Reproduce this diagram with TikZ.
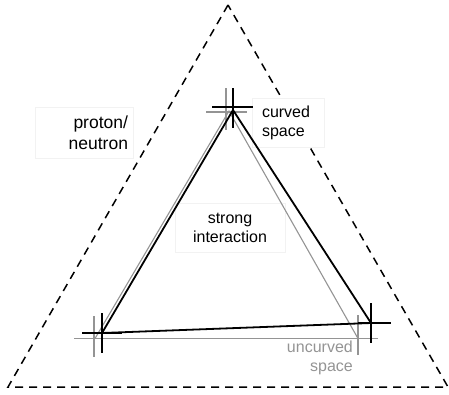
\documentclass[tikz,border=0pt]{standalone}
\usepackage{fontspec}
\setmainfont{Liberation Sans}
\begin{document}
\begin{tikzpicture}[x=1pt,y=-1pt,
  outer/.style={line width=1.5pt, dash pattern=on 8pt off 6pt},
  blk/.style={line width=1.8pt, draw=black},
  gry/.style={line width=1.1pt, draw=black!42},
  lblbox/.style={fill=white, draw=black!5, line width=0.5pt, inner sep=0pt,
    font=\fontsize{16}{19}\selectfont},
]
\useasboundingbox (0,0) rectangle (449,394);
% outer dashed triangle
\coordinate (O1) at (228,5);
\coordinate (O2) at (8,387);
\coordinate (O3) at (448,387);
\draw[outer] (O1) -- (O2) -- (O3) -- cycle;

% labels
\node[lblbox, minimum width=98, minimum height=51, text width=88, align=right,
  font=\fontsize{17.5}{21}\selectfont] (pn) at (84,132.5) {proton/\\neutron};
\node[lblbox, minimum width=72, minimum height=49, text width=52, align=left] (cs) at (288,122.5) {curved\\space};
\node[lblbox, minimum width=110, minimum height=49, text width=100, align=center] (si) at (230,228) {strong\\interaction};
\node[font=\fontsize{16}{19}\selectfont, text=black!42, align=right, anchor=east, inner sep=1pt] (us) at (354,357.5) {uncurved\\space};

% gray (uncurved) triangle
\coordinate (GA) at (229,111);
\coordinate (GB) at (95,338.5);
\coordinate (GC) at (358,338.5);
\coordinate (GL) at (74,338.5);
\coordinate (GR) at (378,338.5);
\draw[gry] (GB) -- (GA) -- (GC);
\draw[gry] (GL) -- (GR);
\coordinate (GAh1) at (206,112); \coordinate (GAh2) at (247,112);
\coordinate (GAv1) at (226,88);  \coordinate (GAv2) at (226,130);
\draw[gry] (GAh1) -- (GAh2);
\draw[gry] (GAv1) -- (GAv2);
\coordinate (GBv1) at (94,316); \coordinate (GBv2) at (94,357);
\draw[gry] (GBv1) -- (GBv2);
\coordinate (GCv1) at (358,315); \coordinate (GCv2) at (358,355);
\draw[gry] (GCv1) -- (GCv2);

% black (curved) triangle
\coordinate (A) at (233,110);
\coordinate (B) at (102,333);
\coordinate (C) at (371,323);
\draw[blk, line join=miter] (A) -- (B) -- (C) -- cycle;
\coordinate (Ah1) at (212,107); \coordinate (Ah2) at (253,107);
\coordinate (Av1) at (233,88);  \coordinate (Av2) at (233,128);
\draw[blk] (Ah1) -- (Ah2);
\draw[blk] (Av1) -- (Av2);
\coordinate (Bh1) at (82,333); \coordinate (Bh2) at (122,333);
\coordinate (Bv1) at (102,313); \coordinate (Bv2) at (102,353);
\draw[blk] (Bh1) -- (Bh2);
\draw[blk] (Bv1) -- (Bv2);
\coordinate (Ch1) at (358,323); \coordinate (Ch2) at (391,323);
\coordinate (Cv1) at (371,303); \coordinate (Cv2) at (371,343);
\draw[blk] (Ch1) -- (Ch2);
\draw[blk] (Cv1) -- (Cv2);
\end{tikzpicture}
\end{document}
